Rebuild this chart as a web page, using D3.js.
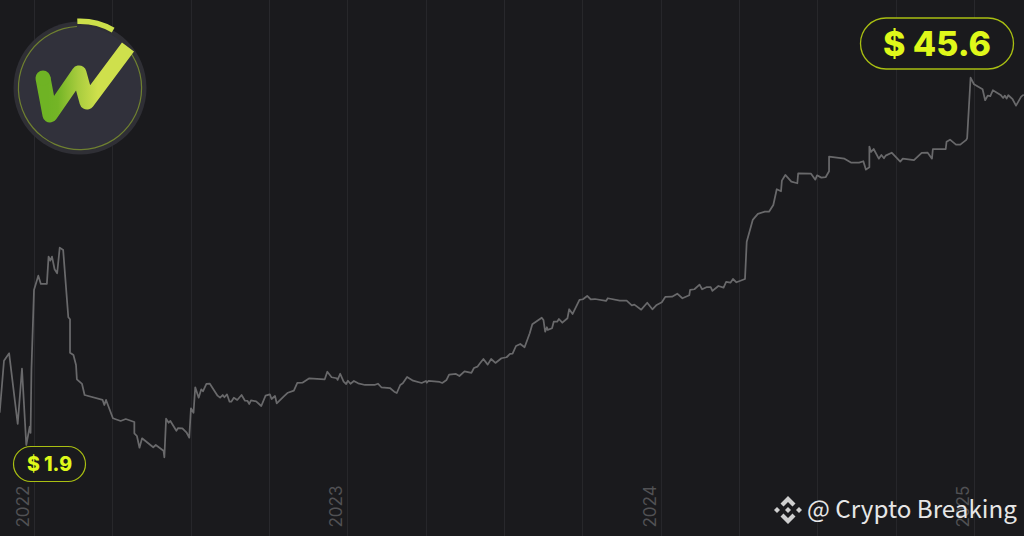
<!DOCTYPE html>
<html><head><meta charset="utf-8">
<script src="https://cdnjs.cloudflare.com/ajax/libs/d3/7.8.5/d3.min.js"></script>
<style>html,body{margin:0;padding:0;background:#1a1a1d;overflow:hidden}svg{display:block}</style>
</head><body><svg id="c" width="1024" height="536"></svg>
<script>
const startDate = "2022-01-01";
const gridDays = [0,91,183,274,365,457,548,639,731,822,913,1005,1096];
const yearDays = [0,365,731,1096];
const yearLabels = ["2022","2023","2024","2025"];
const lowLabel = "$ 1.9";
const highLabel = "$ 45.6";
const lowValue = 1.9, highValue = 45.6;
const watermark = "@ Crypto Breaking";
const days = [-40,-35,-29,-19,-14,-9,-5,-4,-3,0,5,8,15,17,19,21,24,27,30,34,40,42,42,46,49,50,56,59,80,82,84,92,101,107,117,117,120,123,126,139,142,151,152,154,157,159,166,168,173,178,181,183,186,188,192,195,197,201,205,214,217,
220,222,225,228,230,233,237,242,246,249,251,253,259,265,270,275,277,281,283,291,296,303,307,313,321,339,342,347,353,354,357,361,364,366,369,373,378,386,397,401,405,415,420,423,427,430,435,442,452,457,458,460,473,476,481,484,492,496,502,510,513,517,520,
524,529,533,538,545,551,555,558,562,567,572,578,581,592,594,596,598,599,604,606,610,612,616,622,624,628,636,640,645,649,654,667,669,683,691,697,700,708,715,721,726,732,736,744,750,756,764,765,770,776,779,784,789,791,798,804,807,812,815,819,829,
831,838,844,852,857,862,866,871,872,876,883,890,891,906,911,913,918,923,927,927,945,953,962,967,970,974,974,976,979,985,988,991,993,1000,1010,1013,1026,1035,1042,1047,1048,1063,1064,1068,1075,1080,1087,1088,1092,1096,1106,1109,1112,1115,1118,1127,1130,1132,1134,1136,1141,1145,1151,1154];
const prices = [5.74,11.93,12.81,4.40,10.98,1.90,4.08,3.33,10.83,20.35,22.05,21.06,21.06,24.31,23.83,24.31,22.81,22.33,25.38,25.10,17.10,16.86,12.88,12.61,11.42,9.72,9.16,7.85,7.26,6.66,7.26,5.08,4.76,4.99,4.64,3.29,2.97,1.58,2.70,1.63,1.90,1.22,0.44,5.03,4.55,4.76,3.60,3.92,3.89,3.36,2.77,6.27,5.74,8.77,7.53,8.53,8.29,9.16,9.19,7.77,7.53,
7.85,7.58,7.93,7.05,7.05,7.53,7.26,7.85,7.17,7.14,6.78,7.22,7.10,6.54,7.77,7.93,7.37,7.73,6.86,7.65,8.12,8.36,9.28,9.31,9.84,9.72,10.62,9.96,9.84,9.64,10.38,9.43,9.16,9.55,9.19,9.52,9.24,9.04,9.04,9.19,8.77,8.68,8.24,8.09,9.04,9.24,9.99,9.55,9.28,9.52,9.31,9.52,9.40,9.28,9.64,10.27,10.35,10.11,10.67,10.47,11.06,11.22,11.62,
12.13,11.46,12.13,11.66,12.22,12.34,12.73,12.76,13.68,13.92,13.53,15.19,16.26,17.05,16.78,15.38,15.91,15.59,15.79,16.57,16.57,16.89,16.45,16.98,18.05,17.49,19.16,19.24,19.63,19.24,19.27,19.04,19.36,19.07,19.07,18.52,18.60,18.00,18.83,18.05,18.56,18.88,19.51,19.55,19.90,19.36,19.71,20.35,20.43,20.98,20.43,20.67,20.67,20.23,20.82,20.62,21.30,21.21,21.65,21.26,21.65,
26.09,28.68,29.39,29.66,29.66,30.46,32.33,32.09,33.35,34.03,33.23,33.04,34.23,34.18,33.47,33.99,33.71,33.76,34.47,36.21,35.97,35.49,35.49,35.66,34.66,34.95,37.40,36.77,37.12,35.97,36.41,36.02,36.33,36.68,35.61,35.97,35.78,36.65,36.68,35.97,37.09,37.09,37.99,38.23,37.64,37.64,38.20,38.40,45.60,44.82,44.23,42.92,43.47,43.40,44.11,43.55,43.19,43.47,43.11,43.51,43.04,42.28,43.35,43.59];

const t0 = new Date(startDate + "T00:00:00Z");
const toDate = d => d3.utcDay.offset(t0, d);
const x = d3.scaleUtc().domain([toDate(0), toDate(1096)]).range([34, 974]);
const y = d3.scaleLinear().domain([lowValue, highValue]).range([445, 77.7]);
const svg = d3.select("#c");
const BG = "#1a1a1d", LIME = "#dff81a", RING = "#a9bf12";
svg.append("rect").attr("width",1024).attr("height",536).attr("fill",BG);

// gridlines (axis)
const axis = d3.axisBottom(x).tickValues(gridDays.map(toDate)).tickSize(-536).tickFormat("");
const gAxis = svg.append("g").attr("transform","translate(0,536)").call(axis);
gAxis.select(".domain").remove();
gAxis.selectAll(".tick line").attr("stroke","#28282c").attr("stroke-width",1);

// year labels
svg.append("g").selectAll("text").data(yearLabels).join("text")
  .attr("transform",(d,i)=>`translate(${x(toDate(yearDays[i]))-11},527.5) rotate(-90)`)
  .attr("dy","0.35em").attr("font-family","Inter, sans-serif").attr("font-size",17)
  .attr("fill","#515154").text(d=>d);

// price line
const line = d3.line().x((d,i)=>x(toDate(days[i]))).y(d=>y(d)).curve(d3.curveLinear);
svg.append("path").datum(prices).attr("d",line).attr("fill","none")
  .attr("stroke","#69696b").attr("stroke-width",1.75).attr("stroke-linejoin","round");

// pills
function pill(px,py,w,h,label,size,tx,ty,sw){
  svg.append("rect").attr("x",px).attr("y",py).attr("width",w).attr("height",h).attr("rx",h/2)
    .attr("fill",BG).attr("stroke",RING).attr("stroke-width",sw);
  svg.append("text").attr("x",tx).attr("y",ty).attr("text-anchor","middle")
    .attr("font-family","Inter, sans-serif").attr("font-weight",800).attr("font-size",size)
    .attr("fill",LIME).text(label);
}
pill(860.5,18,153,51,highLabel,34,937,56,1.3);
pill(13.5,446.5,72,35,lowLabel,19.5,49.5,470.5,1.2);

// logo
const defs = svg.append("defs");
const g1 = defs.append("linearGradient").attr("id","w").attr("gradientUnits","userSpaceOnUse")
  .attr("x1",-32).attr("y1",0).attr("x2",18).attr("y2",0);
g1.append("stop").attr("offset",0).attr("stop-color","#6fb324");
g1.append("stop").attr("offset",0.2).attr("stop-color","#74b526");
g1.append("stop").attr("offset",0.6).attr("stop-color","#a8cc3e");
g1.append("stop").attr("offset",1).attr("stop-color","#cfe04c");
const logo = svg.append("g").attr("transform","translate(80,88)");
logo.append("circle").attr("r",66.5).attr("fill","#2f2f35");
logo.append("circle").attr("r",62).attr("fill","#31313b");
const arc = d3.arc();
logo.append("path").attr("d",arc({innerRadius:61,outerRadius:62.2,startAngle:0.9,endAngle:Math.PI*2-0.05})).attr("fill","#6f8030");
logo.append("path").attr("d",arc({innerRadius:64,outerRadius:69.5,startAngle:-0.04,endAngle:0.52})).attr("fill","#cde04a");
logo.append("path").attr("d","M-37,-10 L-30,27 L-1,-15 L7,14 L48,-41")
  .attr("fill","none").attr("stroke","url(#w)").attr("stroke-width",15).attr("stroke-linejoin","round").attr("stroke-linecap","butt");
logo.append("circle").attr("cx",-37).attr("cy",-10).attr("r",7.5).attr("fill","#6fb324");

// watermark
const bn = svg.append("g").attr("transform","translate(788,510)").attr("fill","#cfcfcf");
bn.append("path").attr("d","M0,-14 L7.5,-6.5 L4.5,-3.5 L0,-8 L-4.5,-3.5 L-7.5,-6.5Z");
bn.append("path").attr("d","M0,14 L7.5,6.5 L4.5,3.5 L0,8 L-4.5,3.5 L-7.5,6.5Z");
bn.append("path").attr("d","M0,-3 L3,0 L0,3 L-3,0Z");
bn.append("path").attr("d","M-14,0 L-11,-3 L-8,0 L-11,3Z");
bn.append("path").attr("d","M14,0 L11,-3 L8,0 L11,3Z");
svg.append("text").attr("x",807).attr("y",518).attr("font-family","'Noto Sans CJK SC', sans-serif")
  .attr("font-size",24.2).attr("fill","#e6e6e6").text(watermark);
</script></body></html>
